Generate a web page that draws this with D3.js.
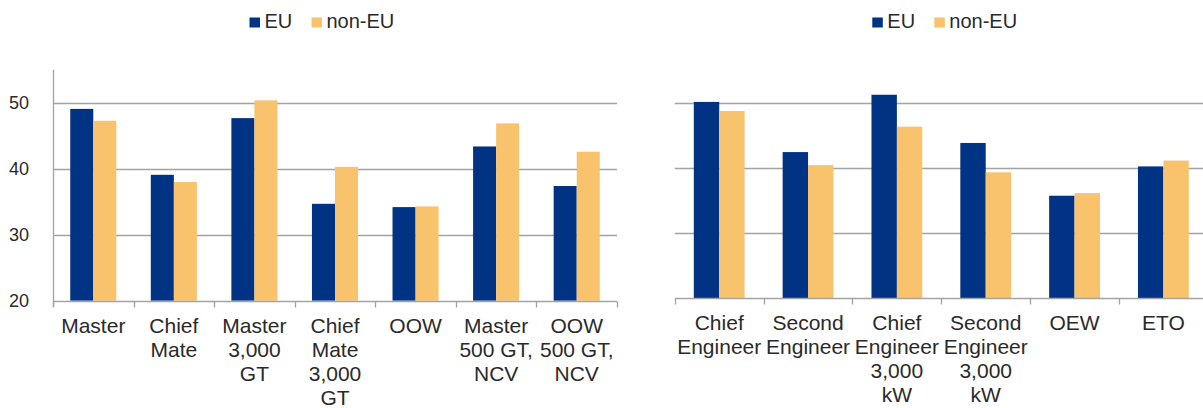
<!DOCTYPE html>
<html>
<head>
<meta charset="utf-8">
<script src="https://cdn.jsdelivr.net/npm/d3@7"></script>
<style>
  html, body { margin: 0; padding: 0; background: #fff; }
  svg { display: block; font-family: "Liberation Sans", Arial, sans-serif; }
</style>
</head>
<body>
<svg id="chart" width="1203" height="408"></svg>
<script>
// Deck officers (left panel)
const deckCategories = ["Master", "Chief\nMate", "Master\n3,000\nGT", "Chief\nMate\n3,000\nGT", "OOW", "Master\n500 GT,\nNCV", "OOW\n500 GT,\nNCV"];
const deckEU    = [49.1, 39.1, 47.7, 34.7, 34.2, 43.4, 37.4];
const deckNonEU = [47.3, 38.0, 50.4, 40.3, 34.3, 46.9, 42.6];

// Engine officers (right panel)
const engineCategories = ["Chief\nEngineer", "Second\nEngineer", "Chief\nEngineer\n3,000\nkW", "Second\nEngineer\n3,000\nkW", "OEW", "ETO"];
const engineEU    = [50.1, 42.4, 51.2, 43.8, 35.7, 40.2];
const engineNonEU = [48.7, 40.4, 46.3, 39.3, 36.1, 41.1];

const seriesNames = ["EU", "non-EU"];
const yTicks = [20, 30, 40, 50];
const yDomain = [20, 55];

const colors = { "EU": "#003383", "non-EU": "#F8C36C" };
const gridColor = "#a3a3a3";
const textColor = "#2a2a2a";

const svg = d3.select("#chart");

function drawPanel(opts) {
  const { categories, eu, nonEu, x0, x1, yTop, yBottom, showYLabels, showYAxis, legendX } = opts;
  const g = svg.append("g");

  const rows = categories.map((c, i) => ({ cat: c, values: [
    { key: "EU", value: eu[i] },
    { key: "non-EU", value: nonEu[i] }
  ]}));

  const x = d3.scaleBand().domain(categories).range([x0, x1]).paddingInner(0).paddingOuter(0);
  const groupFrac = 0.572;
  const xs = d3.scaleBand().domain(seriesNames)
    .range([0, x.bandwidth() * groupFrac]);
  const y = d3.scaleLinear().domain(yDomain).range([yBottom, yTop]);

  // gridlines
  g.append("g").selectAll("line").data(yTicks.filter(t => t !== yDomain[0])).join("line")
    .attr("x1", x0).attr("x2", x1)
    .attr("y1", d => Math.round(y(d)) + 0.5).attr("y2", d => Math.round(y(d)) + 0.5)
    .attr("stroke", gridColor).attr("stroke-width", 1.3);

  // bars
  const off = x.bandwidth() * (1 - groupFrac) / 2;
  g.append("g").selectAll("g").data(rows).join("g")
    .attr("transform", d => `translate(${x(d.cat) + off},0)`)
    .selectAll("rect").data(d => d.values).join("rect")
      .attr("x", d => xs(d.key))
      .attr("width", xs.bandwidth())
      .attr("y", d => y(d.value))
      .attr("height", d => y(yDomain[0]) - y(d.value))
      .attr("fill", d => colors[d.key]);

  // category axis
  const xAxis = g.append("g").attr("transform", `translate(0,${Math.round(y(yDomain[0])) + 0.5})`);
  xAxis.append("line").attr("x1", x0).attr("x2", x1).attr("stroke", gridColor).attr("stroke-width", 1.3);
  const boundaries = categories.map(c => x(c)).concat([x1]);
  xAxis.selectAll("line.tick").data(boundaries).join("line")
    .attr("class", "tick")
    .attr("x1", d => Math.round(d) + 0.5).attr("x2", d => Math.round(d) + 0.5)
    .attr("y1", 0).attr("y2", 6)
    .attr("stroke", gridColor).attr("stroke-width", 1.3);

  const lineH = 24.2;
  xAxis.selectAll("text").data(categories).join("text")
    .attr("text-anchor", "middle")
    .attr("font-size", 21)
    .attr("fill", textColor)
    .attr("transform", d => `translate(${x(d) + x.bandwidth() / 2},${31})`)
    .each(function(d) {
      d3.select(this).selectAll("tspan").data(d.split("\n")).join("tspan")
        .attr("x", 0).attr("y", (l, i) => i * lineH).text(l => l);
    });

  // value axis
  if (showYAxis) {
    g.append("line").attr("x1", x0 + 0.5).attr("x2", x0 + 0.5)
      .attr("y1", yTop).attr("y2", y(yDomain[0]) + 6)
      .attr("stroke", gridColor).attr("stroke-width", 1.3);
  }
  if (showYLabels) {
    g.append("g").selectAll("text").data(yTicks).join("text")
      .attr("x", x0 - 24).attr("y", d => y(d))
      .attr("dy", "0.36em")
      .attr("text-anchor", "end")
      .attr("font-size", 18)
      .attr("fill", textColor)
      .text(d => d);
  }

  // legend
  const legend = g.append("g").attr("transform", `translate(${legendX},0)`);
  const items = [{ key: "EU", dx: 0 }, { key: "non-EU", dx: 62 }];
  items.forEach(it => {
    legend.append("rect").attr("x", it.dx).attr("y", 17.5).attr("width", 10.5).attr("height", 10)
      .attr("fill", colors[it.key]);
    legend.append("text").attr("x", it.dx + 15).attr("y", 27.5)
      .attr("font-size", 20).attr("fill", textColor).text(it.key);
  });
}

drawPanel({
  categories: deckCategories, eu: deckEU, nonEu: deckNonEU,
  x0: 53, x1: 617, yTop: 70, yBottom: 300.7,
  showYLabels: true, showYAxis: true, legendX: 249.5
});

drawPanel({
  categories: engineCategories, eu: engineEU, nonEu: engineNonEU,
  x0: 674.8, x1: 1207.8, yTop: 70, yBottom: 298,
  showYLabels: false, showYAxis: false, legendX: 872.3
});
</script>
</body>
</html>
